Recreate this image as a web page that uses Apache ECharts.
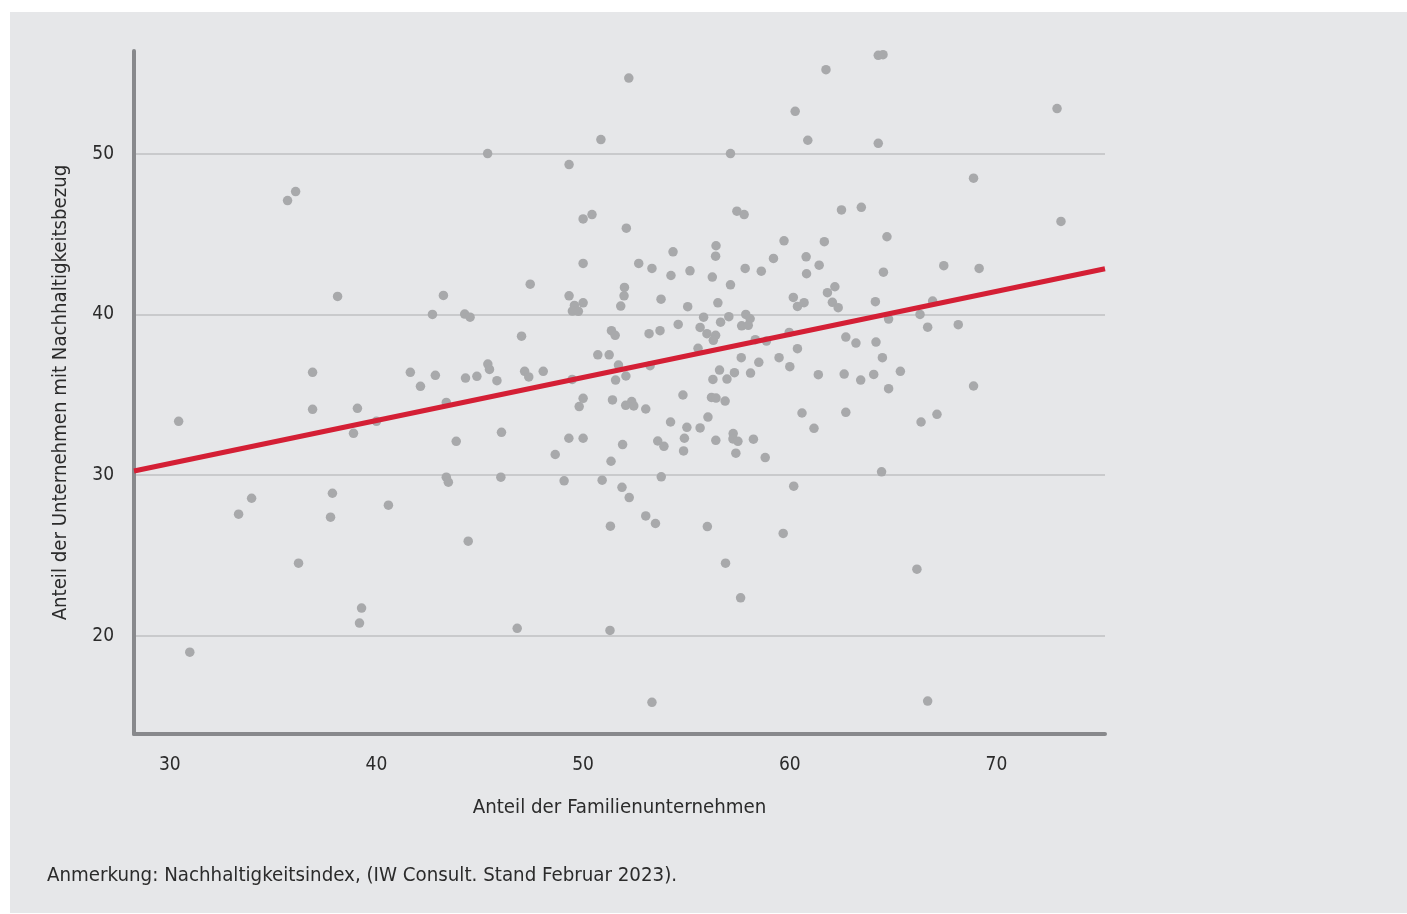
<!DOCTYPE html>
<html>
<head>
<meta charset="utf-8">
<script src="https://cdn.jsdelivr.net/npm/echarts@6/dist/echarts.min.js"></script>
<style>
  html, body { margin:0; padding:0; background:#ffffff; width:1407px; height:914px; overflow:hidden; }
  #bg { position:absolute; left:10px; top:12px; width:1397px; height:901px; background:#e6e7e9; }
  #chart { position:absolute; left:0; top:0; width:1407px; height:914px; }
</style>
</head>
<body>
<div id="bg"></div>
<div id="chart"></div>
<script>
// Anteil der Familienunternehmen (x) and Anteil der Unternehmen mit Nachhaltigkeitsbezug (y)
const familyShare = [
  30.43,30.97,33.33,33.96,35.70,36.09,36.23,36.91,36.91,38.12,37.87,37.78,39.08,38.89,39.28,39.18,40.00,40.58,41.64,42.13,
  42.71,42.85,43.24,43.38,43.38,43.48,43.86,
  45.38,52.21,50.86,49.32,57.13,50.00,50.43,52.09,57.44,57.79,50.00,52.69,53.33,54.35,56.43,56.41,55.17,54.25,57.84,58.62,59.21,59.72,
  56.25,47.44,49.32,50.00,49.58,49.48,49.77,52.00,51.98,51.82,53.77,55.06,57.13,56.52,44.27,44.53,47.02,51.37,51.55,53.19,
  53.72,54.60,55.83,55.66,55.99,56.41,56.30,56.65,57.05,57.87,58.08,57.67,57.99,58.33,58.87,55.56,50.71,51.26,51.71,53.24,
  45.39,45.47,44.31,44.86,45.83,47.17,47.37,48.07,49.47,51.57,52.07,57.65,59.48,58.50,56.60,57.32,58.10,56.28,56.96,54.83,
  56.21,56.43,56.87,50.00,49.81,51.42,52.35,52.06,52.45,53.03,56.04,54.23,55.02,55.66,54.90,54.86,57.26,57.25,57.49,56.42,
  58.24,57.39,58.81,53.61,53.91,46.05,49.31,50.00,51.91,48.65,51.35,46.02,49.08,50.92,53.78,51.88,52.23,
  44.44,51.32,53.03,53.50,56.01,59.68,56.89,57.62,46.81,51.30,53.33,
  64.28,64.51,61.75,60.26,60.87,64.28,72.93,68.89,62.50,63.46,73.12,61.67,64.70,60.79,61.42,60.81,64.53,67.45,69.16,
  62.18,61.82,60.17,60.37,60.69,62.06,62.34,64.14,66.91,66.30,64.78,66.67,68.15,59.97,60.37,62.71,63.20,64.17,64.48,60.00,
  61.38,62.63,63.43,64.06,65.35,64.78,68.89,60.59,61.17,62.71,67.12,66.35,64.44,60.19,
  66.15,66.67
];
const sustainShare = [
  33.35,19.00,27.58,28.57,47.08,47.64,24.53,36.40,34.10,41.12,28.88,27.39,34.16,32.61,21.74,20.81,33.35,28.14,36.40,35.53,
  40.00,36.21,41.18,34.53,29.88,29.57,32.11,
  50.00,54.70,50.87,49.32,50.00,45.94,46.21,45.36,46.42,46.21,43.17,43.17,42.86,43.89,44.27,43.62,42.71,42.42,42.86,42.69,43.48,44.58,
  42.32,41.88,41.16,40.72,40.56,40.21,40.19,41.68,41.16,40.52,40.95,40.48,41.84,40.72,40.02,39.83,38.65,38.99,38.70,38.80,
  38.99,39.38,39.83,39.19,38.80,38.70,38.39,39.52,39.86,40.00,39.73,39.29,39.32,38.43,38.34,37.89,37.49,37.49,36.85,36.81,
  36.91,36.58,36.04,36.15,35.88,36.46,36.11,36.46,35.96,35.92,36.17,37.31,37.31,37.02,36.54,36.38,36.35,35.96,35.98,34.99,
  34.84,34.80,34.61,34.78,34.27,34.68,34.58,34.35,34.31,34.12,33.62,33.31,32.98,32.94,32.30,31.51,32.59,32.26,32.11,32.17,
  32.24,31.37,31.10,32.13,31.80,32.67,32.30,32.30,31.91,31.29,30.87,29.88,29.65,29.69,29.90,29.25,28.61,
  25.90,26.83,27.47,27.00,26.81,26.38,24.53,22.38,20.48,20.35,15.88,
  56.11,56.15,55.22,52.63,50.83,50.64,52.80,48.47,46.50,46.66,45.78,44.52,44.83,43.58,43.06,42.53,42.63,43.03,42.86,
  41.72,41.35,41.06,40.50,40.73,40.75,40.42,40.79,40.83,40.00,39.71,39.21,39.36,38.88,37.87,38.59,38.22,38.28,37.31,36.75,
  36.25,36.29,35.92,36.27,36.46,35.38,35.55,33.87,32.92,33.91,33.79,33.31,30.21,29.32,
  24.16,15.96
];
// Regression line end points
const trendX = [28.27, 75.25];
const trendY = [30.26, 42.84];
// Axis ticks
const xTicks = [30, 40, 50, 60, 70];
const yTicks = [20, 30, 40, 50];

const FONT = "'DejaVu Sans Condensed', 'Liberation Sans Narrow', 'Roboto', sans-serif";
const TXT = '#2b2b2b';

const points = familyShare.map((x, i) => [x, sustainShare[i]]);
const trend = trendX.map((x, i) => [x, trendY[i]]);

const chart = echarts.init(document.getElementById('chart'), null, { renderer: 'canvas' });
chart.setOption({
  backgroundColor: 'transparent',
  animation: false,
  grid: { left: 134, right: 302, top: 51, bottom: 180, containLabel: false },
  xAxis: {
    type: 'value',
    min: 28.27, max: 75.25,
    name: 'Anteil der Familienunternehmen',
    nameLocation: 'middle',
    nameGap: 64,
    nameTextStyle: { fontFamily: FONT, fontSize: 20.3, color: TXT },
    axisLine: { show: true, onZero: false, lineStyle: { color: '#88898c', width: 4 } },
    axisTick: { show: false, customValues: xTicks },
    axisLabel: { customValues: xTicks, fontFamily: FONT, fontSize: 19, color: TXT, margin: 22 },
    splitLine: { show: false }
  },
  yAxis: {
    type: 'value',
    min: 13.91, max: 56.38,
    name: 'Anteil der Unternehmen mit Nachhaltigkeitsbezug',
    nameLocation: 'middle',
    nameGap: 63,
    nameTextStyle: { fontFamily: FONT, fontSize: 20.2, color: TXT },
    axisLine: { show: true, onZero: false, lineStyle: { color: '#88898c', width: 4 } },
    axisTick: { show: false, customValues: yTicks },
    axisLabel: { customValues: yTicks, fontFamily: FONT, fontSize: 19, color: TXT, margin: 20 },
    splitLine: { show: true, lineStyle: { color: '#c9cacc', width: 2 } }
  },
  graphic: [{
    type: 'text',
    left: 47, top: 866,
    style: { text: 'Anmerkung: Nachhaltigkeitsindex, (IW Consult. Stand Februar 2023).', fontFamily: FONT, fontSize: 20.3, fill: TXT }
  }],
  series: [
    {
      type: 'scatter',
      data: points,
      symbol: 'circle',
      symbolSize: 9.5,
      itemStyle: { color: '#a8a9ab', opacity: 1 },
      z: 2
    },
    {
      type: 'line',
      data: trend,
      symbol: 'none',
      lineStyle: { color: '#d41f35', width: 5 },
      z: 3
    }
  ]
});
</script>
</body>
</html>
